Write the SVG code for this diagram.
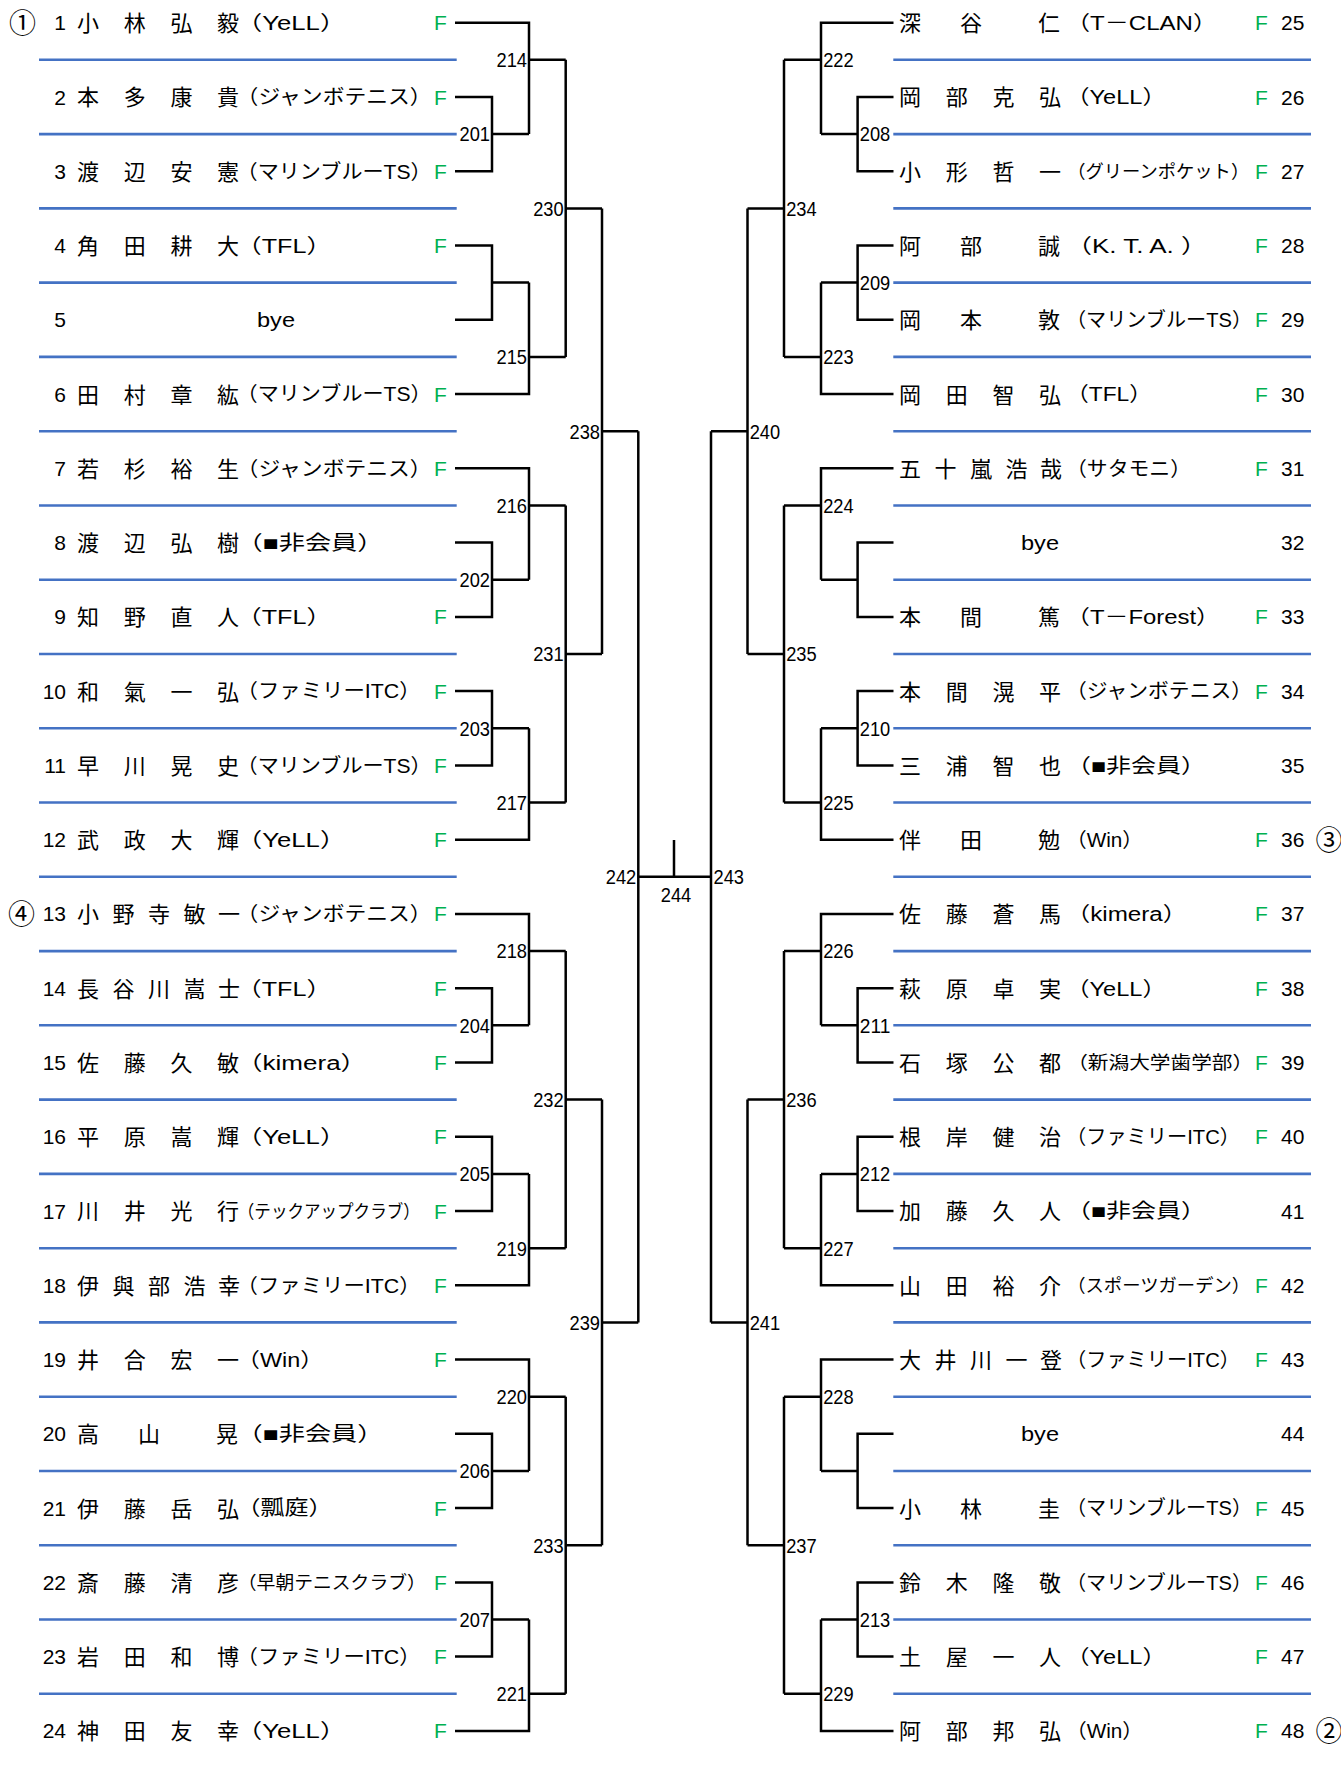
<svg xmlns="http://www.w3.org/2000/svg" width="1341" height="1766" viewBox="0 0 1341 1766">
<style>
text{font-family:"Liberation Sans","Noto Sans CJK JP",sans-serif;fill:#000}
.nm{font-family:"Noto Sans CJK JP",sans-serif;font-size:22px;text-anchor:middle}
.ci{font-family:"Noto Sans CJK JP",sans-serif;font-size:27px;text-anchor:middle}
.cl{font-size:20px}
.cs{font-size:18px}
.no{font-size:21px}
.ne{font-size:21px;text-anchor:end}
.f{font-size:21px;fill:#00B050}
.lb{font-size:20.5px}
.bl{stroke:#4472C4;stroke-width:2.6;fill:none}
.br{stroke:#000;stroke-width:2.5;fill:none}
</style>
<rect width="1341" height="1766" fill="#fff"/>
<g id="blue-lines" class="bl">
<path d="M39,59.8H456.7M39,134.1H456.7M39,208.4H456.7M39,282.6H456.7M39,356.9H456.7M39,431.2H456.7M39,505.5H456.7M39,579.7H456.7M39,654H456.7M39,728.3H456.7M39,802.5H456.7M39,876.8H456.7M39,951.1H456.7M39,1025.3H456.7M39,1099.6H456.7M39,1173.9H456.7M39,1248.2H456.7M39,1322.4H456.7M39,1396.7H456.7M39,1471H456.7M39,1545.2H456.7M39,1619.5H456.7M39,1693.8H456.7"/>
<path d="M893.3,59.8H1311M893.3,134.1H1311M893.3,208.4H1311M893.3,282.6H1311M893.3,356.9H1311M893.3,431.2H1311M893.3,505.5H1311M893.3,579.7H1311M893.3,654H1311M893.3,728.3H1311M893.3,802.5H1311M893.3,876.8H1311M893.3,951.1H1311M893.3,1025.3H1311M893.3,1099.6H1311M893.3,1173.9H1311M893.3,1248.2H1311M893.3,1322.4H1311M893.3,1396.7H1311M893.3,1471H1311M893.3,1545.2H1311M893.3,1619.5H1311M893.3,1693.8H1311"/>
</g>
<g id="connectors" class="br">
<path d="M455,97H492V171.2H455M492,134.1H529"/>
<path d="M455,245.5H492V319.8H455M492,282.6H529"/>
<path d="M455,542.6H492V616.9H455M492,579.7H529"/>
<path d="M455,691.1H492V765.4H455M492,728.3H529"/>
<path d="M455,988.2H492V1062.5H455M492,1025.3H529"/>
<path d="M455,1136.8H492V1211H455M492,1173.9H529"/>
<path d="M455,1433.8H492V1508.1H455M492,1471H529"/>
<path d="M455,1582.4H492V1656.6H455M492,1619.5H529"/>
<path d="M455,22.7H529V134.1M529,59.8H565.7"/>
<path d="M529,282.6V394.1H455M529,356.9H565.7"/>
<path d="M455,468.3H529V579.7M529,505.5H565.7"/>
<path d="M529,728.3V839.7H455M529,802.5H565.7"/>
<path d="M455,913.9H529V1025.3M529,951.1H565.7"/>
<path d="M529,1173.9V1285.3H455M529,1248.2H565.7"/>
<path d="M455,1359.6H529V1471M529,1396.7H565.7"/>
<path d="M529,1619.5V1730.9H455M529,1693.8H565.7"/>
<path d="M565.7,59.8V356.9M565.7,208.4H602"/>
<path d="M565.7,505.5V802.5M565.7,654H602"/>
<path d="M565.7,951.1V1248.2M565.7,1099.6H602"/>
<path d="M565.7,1396.7V1693.8M565.7,1545.2H602"/>
<path d="M602,208.4V654M602,431.2H638.3"/>
<path d="M602,1099.6V1545.2M602,1322.4H638.3"/>
<path d="M638.3,431.2V1322.4M638.3,876.8H711M674,840V876.8M711,431.2V1322.4"/>
<path d="M893.5,97H857.6V171.2H893.5M857.6,134.1H821"/>
<path d="M893.5,245.5H857.6V319.8H893.5M857.6,282.6H821"/>
<path d="M893.5,542.6H857.6V616.9H893.5M857.6,579.7H821"/>
<path d="M893.5,691.1H857.6V765.4H893.5M857.6,728.3H821"/>
<path d="M893.5,988.2H857.6V1062.5H893.5M857.6,1025.3H821"/>
<path d="M893.5,1136.8H857.6V1211H893.5M857.6,1173.9H821"/>
<path d="M893.5,1433.8H857.6V1508.1H893.5M857.6,1471H821"/>
<path d="M893.5,1582.4H857.6V1656.6H893.5M857.6,1619.5H821"/>
<path d="M893.5,22.7H821V134.1M821,59.8H784"/>
<path d="M821,282.6V394.1H893.5M821,356.9H784"/>
<path d="M893.5,468.3H821V579.7M821,505.5H784"/>
<path d="M821,728.3V839.7H893.5M821,802.5H784"/>
<path d="M893.5,913.9H821V1025.3M821,951.1H784"/>
<path d="M821,1173.9V1285.3H893.5M821,1248.2H784"/>
<path d="M893.5,1359.6H821V1471M821,1396.7H784"/>
<path d="M821,1619.5V1730.9H893.5M821,1693.8H784"/>
<path d="M784,59.8V356.9M784,208.4H747.5"/>
<path d="M784,505.5V802.5M784,654H747.5"/>
<path d="M784,951.1V1248.2M784,1099.6H747.5"/>
<path d="M784,1396.7V1693.8M784,1545.2H747.5"/>
<path d="M747.5,208.4V654M747.5,431.2H711"/>
<path d="M747.5,1099.6V1545.2M747.5,1322.4H711"/>
</g>
<g id="match-labels" class="lb">
<text class="lb" x="459.5" y="141.4" textLength="30.5" lengthAdjust="spacingAndGlyphs">201</text>
<text class="lb" x="459.5" y="587" textLength="30.5" lengthAdjust="spacingAndGlyphs">202</text>
<text class="lb" x="459.5" y="735.6" textLength="30.5" lengthAdjust="spacingAndGlyphs">203</text>
<text class="lb" x="459.5" y="1032.6" textLength="30.5" lengthAdjust="spacingAndGlyphs">204</text>
<text class="lb" x="459.5" y="1181.2" textLength="30.5" lengthAdjust="spacingAndGlyphs">205</text>
<text class="lb" x="459.5" y="1478.3" textLength="30.5" lengthAdjust="spacingAndGlyphs">206</text>
<text class="lb" x="459.5" y="1626.8" textLength="30.5" lengthAdjust="spacingAndGlyphs">207</text>
<text class="lb" x="496.5" y="67.1" textLength="30.5" lengthAdjust="spacingAndGlyphs">214</text>
<text class="lb" x="496.5" y="364.2" textLength="30.5" lengthAdjust="spacingAndGlyphs">215</text>
<text class="lb" x="496.5" y="512.8" textLength="30.5" lengthAdjust="spacingAndGlyphs">216</text>
<text class="lb" x="496.5" y="809.8" textLength="30.5" lengthAdjust="spacingAndGlyphs">217</text>
<text class="lb" x="496.5" y="958.4" textLength="30.5" lengthAdjust="spacingAndGlyphs">218</text>
<text class="lb" x="496.5" y="1255.5" textLength="30.5" lengthAdjust="spacingAndGlyphs">219</text>
<text class="lb" x="496.5" y="1404" textLength="30.5" lengthAdjust="spacingAndGlyphs">220</text>
<text class="lb" x="496.5" y="1701.1" textLength="30.5" lengthAdjust="spacingAndGlyphs">221</text>
<text class="lb" x="533.2" y="215.7" textLength="30.5" lengthAdjust="spacingAndGlyphs">230</text>
<text class="lb" x="533.2" y="661.3" textLength="30.5" lengthAdjust="spacingAndGlyphs">231</text>
<text class="lb" x="533.2" y="1106.9" textLength="30.5" lengthAdjust="spacingAndGlyphs">232</text>
<text class="lb" x="533.2" y="1552.5" textLength="30.5" lengthAdjust="spacingAndGlyphs">233</text>
<text class="lb" x="569.5" y="438.5" textLength="30.5" lengthAdjust="spacingAndGlyphs">238</text>
<text class="lb" x="569.5" y="1329.7" textLength="30.5" lengthAdjust="spacingAndGlyphs">239</text>
<text class="lb" x="605.8" y="884.1" textLength="30.5" lengthAdjust="spacingAndGlyphs">242</text>
<text class="lb" x="713.5" y="884.1" textLength="30.5" lengthAdjust="spacingAndGlyphs">243</text>
<text class="lb" x="660.8" y="902.3" textLength="30.5" lengthAdjust="spacingAndGlyphs">244</text>
<text class="lb" x="859.8" y="141.4" textLength="30.5" lengthAdjust="spacingAndGlyphs">208</text>
<text class="lb" x="859.8" y="289.9" textLength="30.5" lengthAdjust="spacingAndGlyphs">209</text>
<text class="lb" x="859.8" y="735.6" textLength="30.5" lengthAdjust="spacingAndGlyphs">210</text>
<text class="lb" x="859.8" y="1032.6" textLength="30.5" lengthAdjust="spacingAndGlyphs">211</text>
<text class="lb" x="859.8" y="1181.2" textLength="30.5" lengthAdjust="spacingAndGlyphs">212</text>
<text class="lb" x="859.8" y="1626.8" textLength="30.5" lengthAdjust="spacingAndGlyphs">213</text>
<text class="lb" x="823.2" y="67.1" textLength="30.5" lengthAdjust="spacingAndGlyphs">222</text>
<text class="lb" x="823.2" y="364.2" textLength="30.5" lengthAdjust="spacingAndGlyphs">223</text>
<text class="lb" x="823.2" y="512.8" textLength="30.5" lengthAdjust="spacingAndGlyphs">224</text>
<text class="lb" x="823.2" y="809.8" textLength="30.5" lengthAdjust="spacingAndGlyphs">225</text>
<text class="lb" x="823.2" y="958.4" textLength="30.5" lengthAdjust="spacingAndGlyphs">226</text>
<text class="lb" x="823.2" y="1255.5" textLength="30.5" lengthAdjust="spacingAndGlyphs">227</text>
<text class="lb" x="823.2" y="1404" textLength="30.5" lengthAdjust="spacingAndGlyphs">228</text>
<text class="lb" x="823.2" y="1701.1" textLength="30.5" lengthAdjust="spacingAndGlyphs">229</text>
<text class="lb" x="786.2" y="215.7" textLength="30.5" lengthAdjust="spacingAndGlyphs">234</text>
<text class="lb" x="786.2" y="661.3" textLength="30.5" lengthAdjust="spacingAndGlyphs">235</text>
<text class="lb" x="786.2" y="1106.9" textLength="30.5" lengthAdjust="spacingAndGlyphs">236</text>
<text class="lb" x="786.2" y="1552.5" textLength="30.5" lengthAdjust="spacingAndGlyphs">237</text>
<text class="lb" x="749.7" y="438.5" textLength="30.5" lengthAdjust="spacingAndGlyphs">240</text>
<text class="lb" x="749.7" y="1329.7" textLength="30.5" lengthAdjust="spacingAndGlyphs">241</text>
</g>
<g id="p1" transform="translate(0,22.7)"><text class="ci" x="22.5" y="10">①</text><text class="ne" x="66" y="7.5">1</text><text class="nm" x="88 134.7 181.4 228" y="8.4">小林弘毅</text><text class="cl" x="236.6" y="7.3" textLength="109" lengthAdjust="spacingAndGlyphs">（YeLL）</text><text class="f" x="434" y="7.5">F</text></g>
<g id="p2" transform="translate(0,97)"><text class="ne" x="66" y="7.5">2</text><text class="nm" x="88 134.7 181.4 228" y="8.4">本多康貴</text><text class="cl" x="236.6" y="7.3" textLength="195" lengthAdjust="spacingAndGlyphs">（ジャンボテニス）</text><text class="f" x="434" y="7.5">F</text></g>
<g id="p3" transform="translate(0,171.2)"><text class="ne" x="66" y="7.5">3</text><text class="nm" x="88 134.7 181.4 228" y="8.4">渡辺安憲</text><text class="cl" x="236.6" y="7.3" textLength="195" lengthAdjust="spacingAndGlyphs">（マリンブルーTS）</text><text class="f" x="434" y="7.5">F</text></g>
<g id="p4" transform="translate(0,245.5)"><text class="ne" x="66" y="7.5">4</text><text class="nm" x="88 134.7 181.4 228" y="8.4">角田耕大</text><text class="cl" x="236.6" y="7.3" textLength="95" lengthAdjust="spacingAndGlyphs">（TFL）</text><text class="f" x="434" y="7.5">F</text></g>
<g id="p5" transform="translate(0,319.8)"><text class="ne" x="66" y="7.5">5</text><text class="no" x="257" y="7.5" textLength="38" lengthAdjust="spacingAndGlyphs">bye</text></g>
<g id="p6" transform="translate(0,394.1)"><text class="ne" x="66" y="7.5">6</text><text class="nm" x="88 134.7 181.4 228" y="8.4">田村章紘</text><text class="cl" x="236.6" y="7.3" textLength="195" lengthAdjust="spacingAndGlyphs">（マリンブルーTS）</text><text class="f" x="434" y="7.5">F</text></g>
<g id="p7" transform="translate(0,468.3)"><text class="ne" x="66" y="7.5">7</text><text class="nm" x="88 134.7 181.4 228" y="8.4">若杉裕生</text><text class="cl" x="236.6" y="7.3" textLength="195" lengthAdjust="spacingAndGlyphs">（ジャンボテニス）</text><text class="f" x="434" y="7.5">F</text></g>
<g id="p8" transform="translate(0,542.6)"><text class="ne" x="66" y="7.5">8</text><text class="nm" x="88 134.7 181.4 228" y="8.4">渡辺弘樹</text><text class="cl" x="236.6" y="7.3" textLength="147" lengthAdjust="spacingAndGlyphs">（■非会員）</text></g>
<g id="p9" transform="translate(0,616.9)"><text class="ne" x="66" y="7.5">9</text><text class="nm" x="88 134.7 181.4 228" y="8.4">知野直人</text><text class="cl" x="236.6" y="7.3" textLength="95" lengthAdjust="spacingAndGlyphs">（TFL）</text><text class="f" x="434" y="7.5">F</text></g>
<g id="p10" transform="translate(0,691.1)"><text class="ne" x="66" y="7.5">10</text><text class="nm" x="88 134.7 181.4 228" y="8.4">和氣一弘</text><text class="cl" x="236.6" y="7.3" textLength="184" lengthAdjust="spacingAndGlyphs">（ファミリーITC）</text><text class="f" x="434" y="7.5">F</text></g>
<g id="p11" transform="translate(0,765.4)"><text class="ne" x="66" y="7.5">11</text><text class="nm" x="88 134.7 181.4 228" y="8.4">早川晃史</text><text class="cl" x="236.6" y="7.3" textLength="195" lengthAdjust="spacingAndGlyphs">（マリンブルーTS）</text><text class="f" x="434" y="7.5">F</text></g>
<g id="p12" transform="translate(0,839.7)"><text class="ne" x="66" y="7.5">12</text><text class="nm" x="88 134.7 181.4 228" y="8.4">武政大輝</text><text class="cl" x="236.6" y="7.3" textLength="109" lengthAdjust="spacingAndGlyphs">（YeLL）</text><text class="f" x="434" y="7.5">F</text></g>
<g id="p13" transform="translate(0,913.9)"><text class="ci" x="21.5" y="10">④</text><text class="ne" x="66" y="7.5">13</text><text class="nm" x="88 123.5 159 194.5 229" y="8.4">小野寺敏一</text><text class="cl" x="236.6" y="7.3" textLength="195" lengthAdjust="spacingAndGlyphs">（ジャンボテニス）</text><text class="f" x="434" y="7.5">F</text></g>
<g id="p14" transform="translate(0,988.2)"><text class="ne" x="66" y="7.5">14</text><text class="nm" x="88 123.5 159 194.5 229" y="8.4">長谷川嵩士</text><text class="cl" x="236.6" y="7.3" textLength="95" lengthAdjust="spacingAndGlyphs">（TFL）</text><text class="f" x="434" y="7.5">F</text></g>
<g id="p15" transform="translate(0,1062.5)"><text class="ne" x="66" y="7.5">15</text><text class="nm" x="88 134.7 181.4 228" y="8.4">佐藤久敏</text><text class="cl" x="236.6" y="7.3" textLength="130" lengthAdjust="spacingAndGlyphs">（kimera）</text><text class="f" x="434" y="7.5">F</text></g>
<g id="p16" transform="translate(0,1136.8)"><text class="ne" x="66" y="7.5">16</text><text class="nm" x="88 134.7 181.4 228" y="8.4">平原嵩輝</text><text class="cl" x="236.6" y="7.3" textLength="109" lengthAdjust="spacingAndGlyphs">（YeLL）</text><text class="f" x="434" y="7.5">F</text></g>
<g id="p17" transform="translate(0,1211)"><text class="ne" x="66" y="7.5">17</text><text class="nm" x="88 134.7 181.4 228" y="8.4">川井光行</text><text class="cs" x="237.8" y="6.6" textLength="182" lengthAdjust="spacingAndGlyphs">（テックアップクラブ）</text><text class="f" x="434" y="7.5">F</text></g>
<g id="p18" transform="translate(0,1285.3)"><text class="ne" x="66" y="7.5">18</text><text class="nm" x="88 123.5 159 194.5 229" y="8.4">伊與部浩幸</text><text class="cl" x="236.6" y="7.3" textLength="184" lengthAdjust="spacingAndGlyphs">（ファミリーITC）</text><text class="f" x="434" y="7.5">F</text></g>
<g id="p19" transform="translate(0,1359.6)"><text class="ne" x="66" y="7.5">19</text><text class="nm" x="88 134.7 181.4 228" y="8.4">井合宏一</text><text class="cl" x="236.6" y="7.3" textLength="87" lengthAdjust="spacingAndGlyphs">（Win）</text><text class="f" x="434" y="7.5">F</text></g>
<g id="p20" transform="translate(0,1433.8)"><text class="ne" x="66" y="7.5">20</text><text class="nm" x="88 149 227" y="8.4">高山晃</text><text class="cl" x="236.6" y="7.3" textLength="147" lengthAdjust="spacingAndGlyphs">（■非会員）</text></g>
<g id="p21" transform="translate(0,1508.1)"><text class="ne" x="66" y="7.5">21</text><text class="nm" x="88 134.7 181.4 228" y="8.4">伊藤岳弘</text><text class="cl" x="236.6" y="7.3" textLength="96" lengthAdjust="spacingAndGlyphs">（瓢庭）</text><text class="f" x="434" y="7.5">F</text></g>
<g id="p22" transform="translate(0,1582.4)"><text class="ne" x="66" y="7.5">22</text><text class="nm" x="88 134.7 181.4 228" y="8.4">斎藤清彦</text><text class="cs" x="237.8" y="6.6" textLength="188" lengthAdjust="spacingAndGlyphs">（早朝テニスクラブ）</text><text class="f" x="434" y="7.5">F</text></g>
<g id="p23" transform="translate(0,1656.6)"><text class="ne" x="66" y="7.5">23</text><text class="nm" x="88 134.7 181.4 228" y="8.4">岩田和博</text><text class="cl" x="236.6" y="7.3" textLength="184" lengthAdjust="spacingAndGlyphs">（ファミリーITC）</text><text class="f" x="434" y="7.5">F</text></g>
<g id="p24" transform="translate(0,1730.9)"><text class="ne" x="66" y="7.5">24</text><text class="nm" x="88 134.7 181.4 228" y="8.4">神田友幸</text><text class="cl" x="236.6" y="7.3" textLength="109" lengthAdjust="spacingAndGlyphs">（YeLL）</text><text class="f" x="434" y="7.5">F</text></g>
<g id="p25" transform="translate(0,22.7)"><text class="nm" x="910 971 1049" y="8.4">深谷仁</text><text class="cl" x="1066" y="7.3" textLength="151" lengthAdjust="spacingAndGlyphs">（T－CLAN）</text><text class="f" x="1255" y="7.5">F</text><text class="no" x="1281" y="7.5">25</text></g>
<g id="p26" transform="translate(0,97)"><text class="nm" x="910 956.7 1003.4 1050" y="8.4">岡部克弘</text><text class="cl" x="1066" y="7.3" textLength="100" lengthAdjust="spacingAndGlyphs">（YeLL）</text><text class="f" x="1255" y="7.5">F</text><text class="no" x="1281" y="7.5">26</text></g>
<g id="p27" transform="translate(0,171.2)"><text class="nm" x="910 956.7 1003.4 1050" y="8.4">小形哲一</text><text class="cs" x="1067.2" y="6.6" textLength="182" lengthAdjust="spacingAndGlyphs">（グリーンポケット）</text><text class="f" x="1255" y="7.5">F</text><text class="no" x="1281" y="7.5">27</text></g>
<g id="p28" transform="translate(0,245.5)"><text class="nm" x="910 971 1049" y="8.4">阿部誠</text><text class="cl" x="1066" y="7.3" textLength="141" lengthAdjust="spacingAndGlyphs">（K. T. A. ）</text><text class="f" x="1255" y="7.5">F</text><text class="no" x="1281" y="7.5">28</text></g>
<g id="p29" transform="translate(0,319.8)"><text class="nm" x="910 971 1049" y="8.4">岡本敦</text><text class="cl" x="1066" y="7.3" textLength="186" lengthAdjust="spacingAndGlyphs">（マリンブルーTS）</text><text class="f" x="1255" y="7.5">F</text><text class="no" x="1281" y="7.5">29</text></g>
<g id="p30" transform="translate(0,394.1)"><text class="nm" x="910 956.7 1003.4 1050" y="8.4">岡田智弘</text><text class="cl" x="1066" y="7.3" textLength="86" lengthAdjust="spacingAndGlyphs">（TFL）</text><text class="f" x="1255" y="7.5">F</text><text class="no" x="1281" y="7.5">30</text></g>
<g id="p31" transform="translate(0,468.3)"><text class="nm" x="910 945.5 981 1016.5 1051" y="8.4">五十嵐浩哉</text><text class="cl" x="1066" y="7.3" textLength="125" lengthAdjust="spacingAndGlyphs">（サタモニ）</text><text class="f" x="1255" y="7.5">F</text><text class="no" x="1281" y="7.5">31</text></g>
<g id="p32" transform="translate(0,542.6)"><text class="no" x="1021" y="7.5" textLength="38" lengthAdjust="spacingAndGlyphs">bye</text><text class="no" x="1281" y="7.5">32</text></g>
<g id="p33" transform="translate(0,616.9)"><text class="nm" x="910 971 1049" y="8.4">本間篤</text><text class="cl" x="1066" y="7.3" textLength="154" lengthAdjust="spacingAndGlyphs">（T－Forest）</text><text class="f" x="1255" y="7.5">F</text><text class="no" x="1281" y="7.5">33</text></g>
<g id="p34" transform="translate(0,691.1)"><text class="nm" x="910 956.7 1003.4 1050" y="8.4">本間滉平</text><text class="cl" x="1066" y="7.3" textLength="186" lengthAdjust="spacingAndGlyphs">（ジャンボテニス）</text><text class="f" x="1255" y="7.5">F</text><text class="no" x="1281" y="7.5">34</text></g>
<g id="p35" transform="translate(0,765.4)"><text class="nm" x="910 956.7 1003.4 1050" y="8.4">三浦智也</text><text class="cl" x="1066" y="7.3" textLength="140" lengthAdjust="spacingAndGlyphs">（■非会員）</text><text class="no" x="1281" y="7.5">35</text></g>
<g id="p36" transform="translate(0,839.7)"><text class="nm" x="910 971 1049" y="8.4">伴田勉</text><text class="cl" x="1066" y="7.3" textLength="77" lengthAdjust="spacingAndGlyphs">（Win）</text><text class="f" x="1255" y="7.5">F</text><text class="no" x="1281" y="7.5">36</text><text class="ci" x="1329" y="10">③</text></g>
<g id="p37" transform="translate(0,913.9)"><text class="nm" x="910 956.7 1003.4 1050" y="8.4">佐藤蒼馬</text><text class="cl" x="1066" y="7.3" textLength="121" lengthAdjust="spacingAndGlyphs">（kimera）</text><text class="f" x="1255" y="7.5">F</text><text class="no" x="1281" y="7.5">37</text></g>
<g id="p38" transform="translate(0,988.2)"><text class="nm" x="910 956.7 1003.4 1050" y="8.4">萩原卓実</text><text class="cl" x="1066" y="7.3" textLength="100" lengthAdjust="spacingAndGlyphs">（YeLL）</text><text class="f" x="1255" y="7.5">F</text><text class="no" x="1281" y="7.5">38</text></g>
<g id="p39" transform="translate(0,1062.5)"><text class="nm" x="910 956.7 1003.4 1050" y="8.4">石塚公都</text><text class="cs" x="1067.2" y="6.6" textLength="186" lengthAdjust="spacingAndGlyphs">（新潟大学歯学部）</text><text class="f" x="1255" y="7.5">F</text><text class="no" x="1281" y="7.5">39</text></g>
<g id="p40" transform="translate(0,1136.8)"><text class="nm" x="910 956.7 1003.4 1050" y="8.4">根岸健治</text><text class="cl" x="1066" y="7.3" textLength="174" lengthAdjust="spacingAndGlyphs">（ファミリーITC）</text><text class="f" x="1255" y="7.5">F</text><text class="no" x="1281" y="7.5">40</text></g>
<g id="p41" transform="translate(0,1211)"><text class="nm" x="910 956.7 1003.4 1050" y="8.4">加藤久人</text><text class="cl" x="1066" y="7.3" textLength="140" lengthAdjust="spacingAndGlyphs">（■非会員）</text><text class="no" x="1281" y="7.5">41</text></g>
<g id="p42" transform="translate(0,1285.3)"><text class="nm" x="910 956.7 1003.4 1050" y="8.4">山田裕介</text><text class="cs" x="1067.2" y="6.6" textLength="183" lengthAdjust="spacingAndGlyphs">（スポーツガーデン）</text><text class="f" x="1255" y="7.5">F</text><text class="no" x="1281" y="7.5">42</text></g>
<g id="p43" transform="translate(0,1359.6)"><text class="nm" x="910 945.5 981 1016.5 1051" y="8.4">大井川一登</text><text class="cl" x="1066" y="7.3" textLength="174" lengthAdjust="spacingAndGlyphs">（ファミリーITC）</text><text class="f" x="1255" y="7.5">F</text><text class="no" x="1281" y="7.5">43</text></g>
<g id="p44" transform="translate(0,1433.8)"><text class="no" x="1021" y="7.5" textLength="38" lengthAdjust="spacingAndGlyphs">bye</text><text class="no" x="1281" y="7.5">44</text></g>
<g id="p45" transform="translate(0,1508.1)"><text class="nm" x="910 971 1049" y="8.4">小林圭</text><text class="cl" x="1066" y="7.3" textLength="186" lengthAdjust="spacingAndGlyphs">（マリンブルーTS）</text><text class="f" x="1255" y="7.5">F</text><text class="no" x="1281" y="7.5">45</text></g>
<g id="p46" transform="translate(0,1582.4)"><text class="nm" x="910 956.7 1003.4 1050" y="8.4">鈴木隆敬</text><text class="cl" x="1066" y="7.3" textLength="186" lengthAdjust="spacingAndGlyphs">（マリンブルーTS）</text><text class="f" x="1255" y="7.5">F</text><text class="no" x="1281" y="7.5">46</text></g>
<g id="p47" transform="translate(0,1656.6)"><text class="nm" x="910 956.7 1003.4 1050" y="8.4">土屋一人</text><text class="cl" x="1066" y="7.3" textLength="100" lengthAdjust="spacingAndGlyphs">（YeLL）</text><text class="f" x="1255" y="7.5">F</text><text class="no" x="1281" y="7.5">47</text></g>
<g id="p48" transform="translate(0,1730.9)"><text class="nm" x="910 956.7 1003.4 1050" y="8.4">阿部邦弘</text><text class="cl" x="1066" y="7.3" textLength="77" lengthAdjust="spacingAndGlyphs">（Win）</text><text class="f" x="1255" y="7.5">F</text><text class="no" x="1281" y="7.5">48</text><text class="ci" x="1329" y="10">②</text></g>
</svg>
